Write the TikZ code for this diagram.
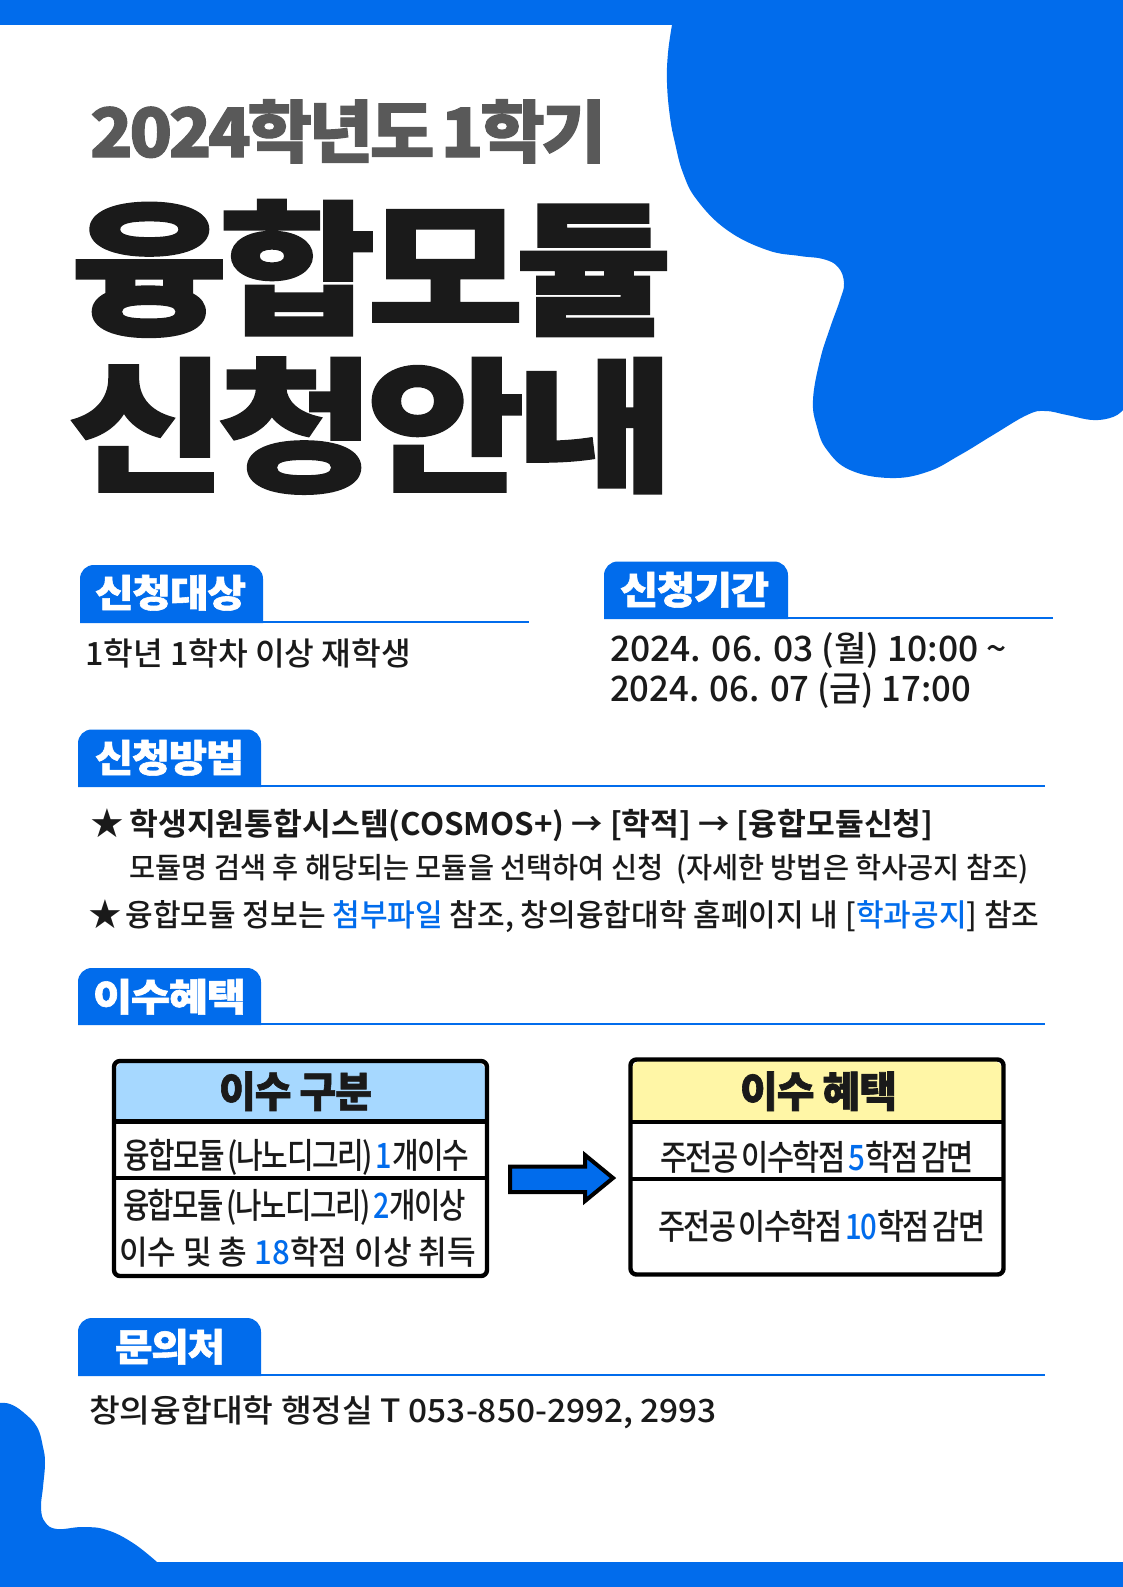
\documentclass[tikz,border=0pt]{standalone}
\usepackage{graphicx}
\usepackage{fontspec}
\setmainfont{Noto Sans CJK KR}
\newfontfamily\fblack[FakeBold=1.5,LetterSpace=-3]{Noto Sans CJK KR Black}
\newfontfamily\fhuge[FakeBold=1.5,LetterSpace=-5,WordSpace=0.5]{Noto Sans CJK KR Black}
\newfontfamily\fbold{Noto Sans CJK KR Bold}
\newfontfamily\fmed{Noto Sans CJK KR Medium}
\newfontfamily\ftight[LetterSpace=-5,WordSpace=0.55]{Noto Sans CJK KR Medium}
\newfontfamily\fstar{DejaVu Sans}
\definecolor{brand}{HTML}{016CEC}
\definecolor{ink}{HTML}{1A1A1A}
\definecolor{titlegrey}{HTML}{595959}
\definecolor{headblue}{HTML}{A6D8FF}
\definecolor{headyellow}{HTML}{FFF6A6}
\newcommand{\bl}[1]{\textcolor{brand}{#1}}
% name, x, baseline, width, size, font, text
\newcommand{\tl}[7]{\node[txt] (#1) at (#2,#3) {\resizebox{#4pt}{\height}{\fontsize{#5pt}{#5pt}#6\selectfont #7}};}
\newcommand{\tabpath}[4]{(#1,#4) -- (#1,#3+14) .. controls (#1,#3+6) and (#1+6,#3) .. (#1+14,#3) -- (#2-14,#3) .. controls (#2-6,#3) and (#2,#3+6) .. (#2,#3+14) -- (#2,#4) -- cycle}
\tikzset{
  txt/.style={anchor=base west,inner sep=0pt,outer sep=0pt,text=ink},
  rule/.style={draw=brand,line width=1.8pt},
  tabfill/.style={fill=brand},
  boxline/.style={draw=black,line width=4.4pt},
  starmark/.style={txt,font=\fontsize{40pt}{40pt}\fstar\selectfont},
}
\begin{document}
\begin{tikzpicture}[x=1pt,y=-1pt]
\useasboundingbox (0,0) rectangle (1123,1587);
\fill[white] (0,0) rectangle (1123,1587);
% decoration
\fill[brand] (0,0) rectangle (1123,25);
\fill[brand] (0,1562) rectangle (1123,1587);
\fill[brand] plot[smooth,tension=.7] coordinates {(672,25) (668,53) (667,83) (670,117) (675,143) (683,173) (697,200) (727,230) (767,250) (800,256) (823,259) (838,267) (844,283) (840,300) (830,328) (820,360) (813,400) (817,427) (827,450) (850,470) (890,478) (927,472) (960,455) (993,435) (1027,415) (1045,411) (1067,415) (1093,420) (1113,417) (1123,410)} -- (1123,0) -- (672,0) -- cycle;
\fill[brand] plot[smooth,tension=.7] coordinates {(0,1403) (10,1404) (23,1412) (37,1427) (43,1447) (45,1463) (43,1487) (41,1508) (45,1522) (57,1529) (83,1527) (107,1530) (133,1543) (157,1562)} -- (0,1562) -- cycle;
% titles
\tl{t1}{90}{157}{516}{68}{\fhuge\color{titlegrey}}{2024학년도 1학기}
\tl{t2}{71}{323}{601}{145}{\fhuge}{융합모듈}
\tl{t3}{68}{480}{606}{145}{\fhuge}{신청안내}
% section rules and tabs
\draw[rule] (80,622) -- (529,622);
\fill[tabfill] \tabpath{80}{263}{565}{623};
\tl{s1}{95}{607}{151}{38}{\fblack\color{white}}{신청대상}
\draw[rule] (604,618) -- (1053,618);
\fill[tabfill] \tabpath{604}{788}{561.5}{619};
\tl{s2}{620}{604}{149}{38}{\fblack\color{white}}{신청기간}
\draw[rule] (78,786) -- (1045,786);
\fill[tabfill] \tabpath{78}{261}{729.5}{787};
\tl{s3}{95}{772}{149}{38}{\fblack\color{white}}{신청방법}
\draw[rule] (78,1024) -- (1045,1024);
\fill[tabfill] \tabpath{78}{261}{968}{1025};
\tl{s4}{93}{1011}{153}{38}{\fblack\color{white}}{이수혜택}
\draw[rule] (78,1375) -- (1045,1375);
\fill[tabfill] \tabpath{78}{261}{1318}{1376};
\tl{s5}{115}{1361}{110}{38}{\fblack\color{white}}{문의처}
% body
\tl{b1}{85}{665}{326}{32}{\fmed}{1학년 1학차 이상 재학생}
\tl{b2}{610}{661}{397}{35}{\fmed}{2024. 06. 03 (월) 10:00 \textasciitilde}
\tl{b3}{610}{701}{361}{35}{\fmed}{2024. 06. 07 (금) 17:00}
\node[starmark] (st1) at (89,837) {★};
\tl{m1}{129.5}{835}{804}{31}{\fbold}{학생지원통합시스템(COSMOS+) → [학적] → [융합모듈신청]}
\tl{m2}{129.5}{878}{899}{29}{\fmed}{모듈명 검색 후 해당되는 모듈을 선택하여 신청 \ (자세한 방법은 학사공지 참조)}
\node[starmark] (st2) at (87,928) {★};
\tl{m3}{125.5}{926}{914}{31}{\fmed}{융합모듈 정보는 \bl{첨부파일} 참조, 창의융합대학 홈페이지 내 [\bl{학과공지}] 참조}
% left table
\fill[headblue] \tabpath{114}{487}{1061}{1121.5};
\draw[boxline,rounded corners=6pt] (114,1061) rectangle (487,1276);
\draw[boxline] (114,1121.5) -- (487,1121.5);
\draw[boxline] (114,1178) -- (487,1178);
\tl{lh}{219}{1107}{153}{42}{\fblack}{이수 구분}
\tl{l1}{123}{1168}{346}{35}{\ftight}{융합모듈 (나노디그리) \bl{1}개이수}
\tl{l2}{123}{1218}{343}{35}{\ftight}{융합모듈 (나노디그리) \bl{2}개이상}
\tl{l3}{119}{1264}{357}{33}{\fmed}{이수 및 총 \bl{18}학점 이상 취득}
% right table
\fill[headyellow] \tabpath{630.5}{1003.5}{1059.5}{1122};
\draw[boxline,rounded corners=6pt] (630.5,1059.5) rectangle (1003.5,1274.5);
\draw[boxline] (630.5,1122) -- (1003.5,1122);
\draw[boxline] (630.5,1179) -- (1003.5,1179);
\tl{rh}{740}{1107}{157}{42}{\fblack}{이수 혜택}
\tl{r1}{660}{1170}{314}{35}{\ftight}{주전공 이수학점 \bl{5}학점 감면}
\tl{r2}{658}{1239}{327}{35}{\ftight}{주전공 이수학점 \bl{10}학점 감면}
% block arrow
\draw[fill=brand,draw=black,line width=4pt,line join=miter] (510,1166.5) -- (585,1166.5) -- (585,1155) -- (613,1178) -- (585,1201) -- (585,1192) -- (510,1192) -- cycle;
% footer
\tl{f1}{89}{1422}{628}{32}{\fmed}{창의융합대학 행정실 T 053-850-2992, 2993}
\end{tikzpicture}
\end{document}
